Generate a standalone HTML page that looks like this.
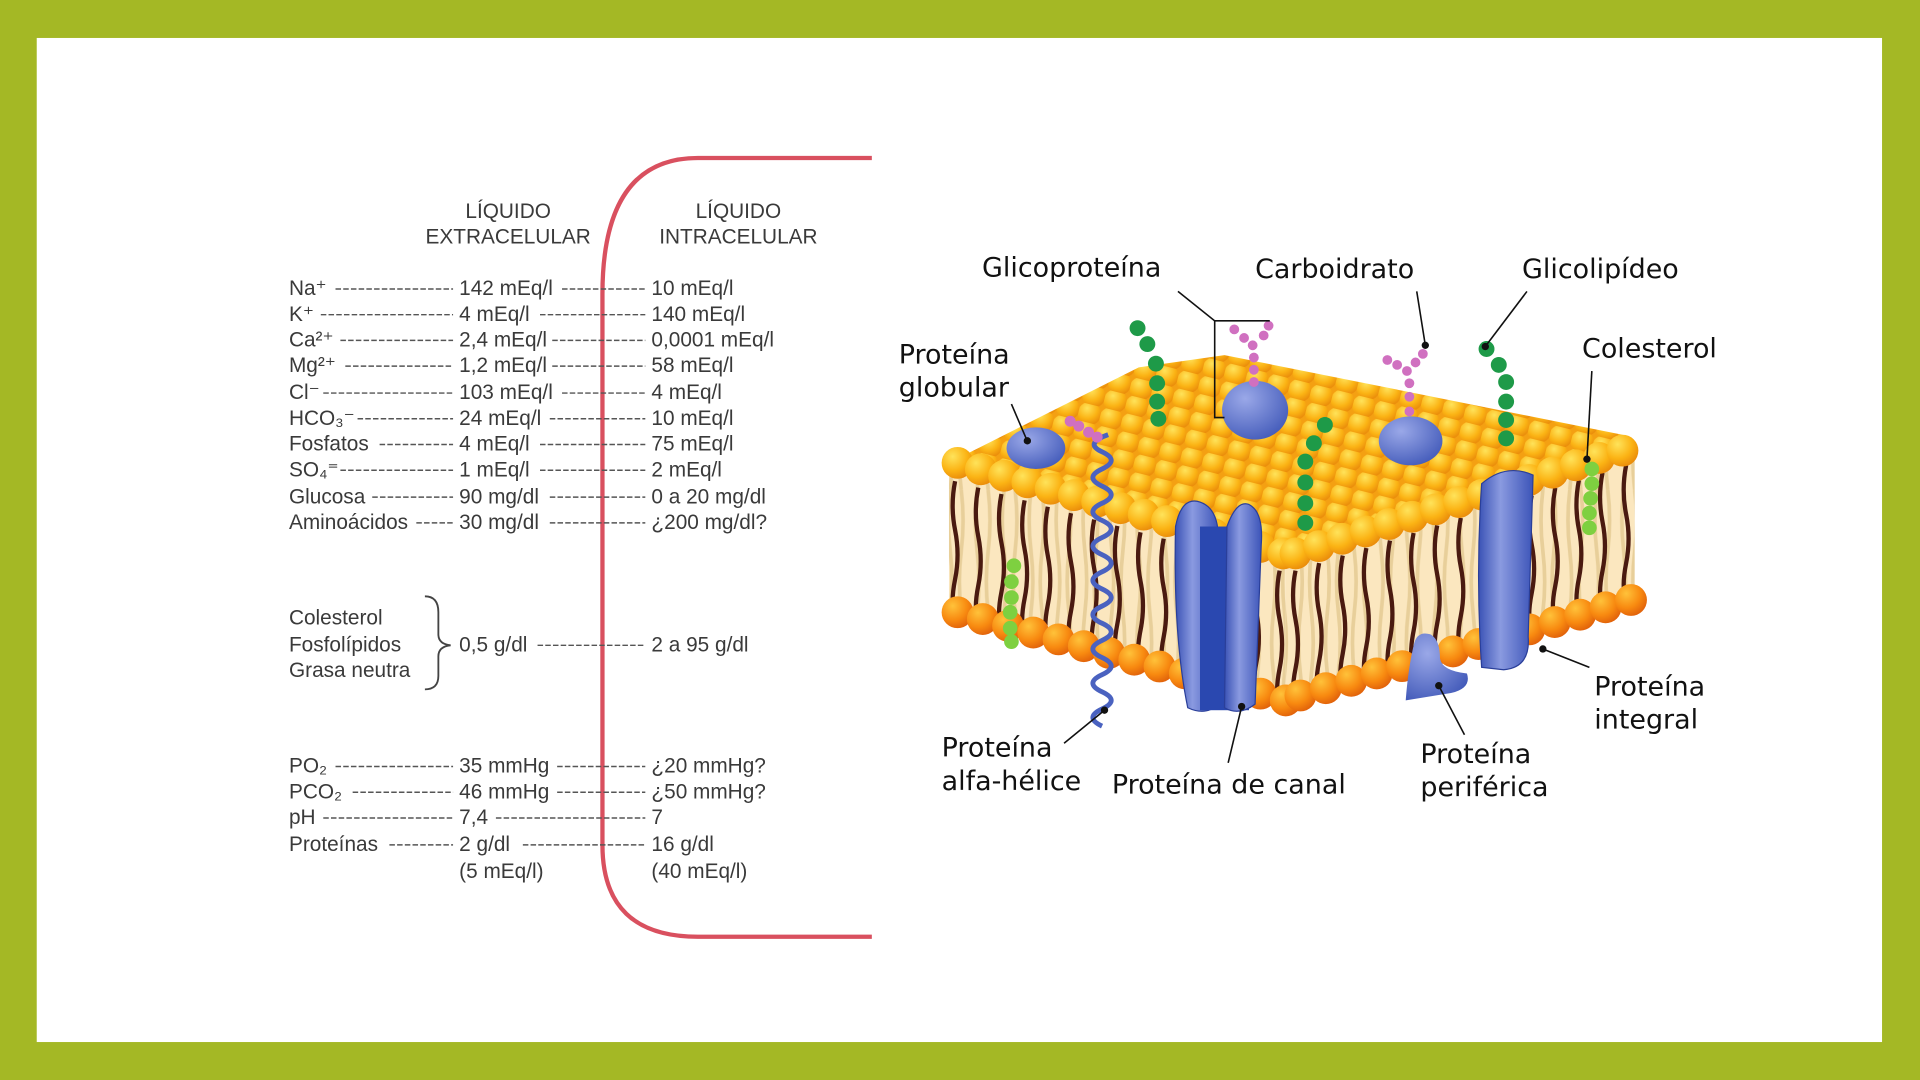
<!DOCTYPE html>
<html><head><meta charset="utf-8"><style>
html,body{margin:0;padding:0;background:#a4b825;}
svg{display:block}
.t{font-family:"Liberation Sans",sans-serif;font-size:17px;fill:#3a3a3a}
.l{font-family:"DejaVu Sans",sans-serif;font-size:22px;fill:#111}
</style></head><body>
<svg id="s" width="1920" height="1080" viewBox="0 0 1568 882" xmlns="http://www.w3.org/2000/svg">
<defs>
<radialGradient id="hy" cx="0.35" cy="0.3" r="0.75"><stop offset="0" stop-color="#ffe35a"/><stop offset="0.6" stop-color="#fbb314"/><stop offset="1" stop-color="#e98a0a"/></radialGradient>
<radialGradient id="ho" cx="0.35" cy="0.3" r="0.75"><stop offset="0" stop-color="#ffc23a"/><stop offset="0.6" stop-color="#f88a10"/><stop offset="1" stop-color="#e0600a"/></radialGradient>
<radialGradient id="bl" cx="0.35" cy="0.3" r="0.8"><stop offset="0" stop-color="#9aa8e8"/><stop offset="1" stop-color="#4058b8"/></radialGradient>
<linearGradient id="bv" x1="0" x2="1"><stop offset="0" stop-color="#3a52b5"/><stop offset="0.4" stop-color="#8a9ae0"/><stop offset="1" stop-color="#3c54b8"/></linearGradient>
<pattern id="heads" width="18" height="15" patternUnits="userSpaceOnUse" patternTransform="rotate(14)">
<rect width="18" height="15" fill="#f4a012"/>
<circle cx="9" cy="7.5" r="9.5" fill="url(#hy)"/></pattern>
<pattern id="tails" width="22" height="200" patternUnits="userSpaceOnUse">
<rect width="22" height="200" fill="#fbe7bf"/>
<path d="M6 0 q-3 25 0 50 t0 50 t0 50 t0 50" stroke="#e8cf9a" stroke-width="3" fill="none"/>
<path d="M15 0 q3 25 0 50 t0 50 t0 50 t0 50" stroke="#e8cf9a" stroke-width="3" fill="none"/>
</pattern>
</defs>
<rect x="30" y="31" width="1507" height="820" fill="#fff"/>

<path d="M712 129 H570 Q492 129 492 240 V690 Q492 765 570 765 H712" fill="none" stroke="#d9505f" stroke-width="3.5"/>

<g class="t">
<text x="415" y="178" text-anchor="middle">LÍQUIDO</text>
<text x="415" y="199" text-anchor="middle">EXTRACELULAR</text>
<text x="603" y="178" text-anchor="middle">LÍQUIDO</text>
<text x="603" y="199" text-anchor="middle">INTRACELULAR</text>
</g>
<g class="t" id="rows"></g>

<polygon points="775,380 1050,455 1050,570 775,500" fill="url(#tails)"/>
<polygon points="1050,455 1335,368 1335,490 1050,570" fill="url(#tails)"/>
<g id="tl"></g>
<g id="bot"></g>
<polygon points="775,378 930,300 1000,290 1325,355 1335,368 1050,455" fill="url(#heads)"/>
<g id="topedge"></g>

<ellipse cx="846" cy="366" rx="24" ry="17" fill="url(#bl)"/>
<ellipse cx="1025" cy="335" rx="27" ry="24" fill="url(#bl)"/>
<ellipse cx="1152" cy="360" rx="26" ry="20" fill="url(#bl)"/>
<path d="M960 430 Q965 405 980 410 Q995 415 995 440 L995 575 Q985 585 970 578 Q958 520 960 430Z" fill="url(#bv)" stroke="#2a3f9a"/>
<rect x="980" y="430" width="40" height="150" fill="#2a48b0"/>
<path d="M1002 430 Q1010 408 1020 412 Q1032 418 1030 445 L1025 575 Q1012 585 1000 578Z" fill="url(#bv)" stroke="#2a3f9a"/>
<path d="M1210 395 Q1230 378 1252 388 L1248 520 Q1250 545 1228 547 L1210 545 Q1205 470 1210 395Z" fill="url(#bv)" stroke="#2a3f9a"/>
<path d="M1155 525 Q1158 515 1168 518 Q1176 522 1176 538 Q1178 548 1198 550 Q1202 562 1185 566 L1148 572 Q1150 545 1155 525Z" fill="url(#bl)"/>
<path id="helix" d="" fill="none" stroke="#4a62c0" stroke-width="4"/>
<g id="chains"></g>

<g stroke="#111" stroke-width="1.3" fill="none">
<polyline points="962,238 992,262 1037,262"/><polyline points="992,262 992,341 1000,341"/>
<line x1="1157" y1="238" x2="1164" y2="282"/>
<line x1="1247" y1="238" x2="1213" y2="283"/>
<line x1="1300" y1="303" x2="1296" y2="375"/>
<line x1="826" y1="330" x2="838" y2="358"/>
<line x1="869" y1="607" x2="902" y2="580"/>
<line x1="1003" y1="623" x2="1014" y2="577"/>
<line x1="1196" y1="600" x2="1175" y2="560"/>
<line x1="1298" y1="545" x2="1260" y2="530"/>
</g>
<g fill="#111">
<circle cx="1164" cy="282" r="3"/><circle cx="1213" cy="283" r="3"/><circle cx="1296" cy="375" r="3"/>
<circle cx="839" cy="360" r="3"/><circle cx="902" cy="580" r="3"/><circle cx="1014" cy="577" r="3"/>
<circle cx="1175" cy="560" r="3"/><circle cx="1260" cy="530" r="3"/>
</g>
<g class="l">
<text x="802" y="226">Glicoproteína</text>
<text x="1025" y="227">Carboidrato</text>
<text x="1243" y="227">Glicolipídeo</text>
<text x="1292" y="292">Colesterol</text>
<text x="734" y="297">Proteína</text><text x="734" y="324">globular</text>
<text x="769" y="618">Proteína</text><text x="769" y="645">alfa-hélice</text>
<text x="908" y="648">Proteína de canal</text>
<text x="1160" y="623">Proteína</text><text x="1160" y="650">periférica</text>
<text x="1302" y="568">Proteína</text><text x="1302" y="595">integral</text>
</g>
</svg>
<script>
const NS="http://www.w3.org/2000/svg";
function el(p,t,a,txt){const e=document.createElementNS(NS,t);for(const k in a)e.setAttribute(k,a[k]);if(txt!=null)e.textContent=txt;document.getElementById(p).appendChild(e);return e;}
const rows=[["Na⁺","142 mEq/l","10 mEq/l",241],["K⁺","4 mEq/l","140 mEq/l",262],["Ca²⁺","2,4 mEq/l","0,0001 mEq/l",283],["Mg²⁺","1,2 mEq/l","58 mEq/l",304],["Cl⁻","103 mEq/l","4 mEq/l",326],["HCO₃⁻","24 mEq/l","10 mEq/l",347],["Fosfatos","4 mEq/l","75 mEq/l",368],["SO₄⁼","1 mEq/l","2 mEq/l",389],["Glucosa","90 mg/dl","0 a 20 mg/dl",411],["Aminoácidos","30 mg/dl","¿200 mg/dl?",432],
["Fosfolípidos","0,5 g/dl","2 a 95 g/dl",532],["PO₂","35 mmHg","¿20 mmHg?",631],["PCO₂","46 mmHg","¿50 mmHg?",652],["pH","7,4","7",673],["Proteínas","2 g/dl","16 g/dl",695]];
const lw={"Na⁺":34,"K⁺":22,"Ca²⁺":38,"Mg²⁺":42,"Cl⁻":24,"HCO₃⁻":52,"Fosfatos":70,"SO₄⁼":38,"Glucosa":64,"Aminoácidos":100,"Fosfolípidos":0,"PO₂":34,"PCO₂":48,"pH":24,"Proteínas":78};
const v1w={"142 mEq/l":80,"4 mEq/l":62,"2,4 mEq/l":72,"1,2 mEq/l":72,"103 mEq/l":80,"24 mEq/l":70,"1 mEq/l":62,"90 mg/dl":70,"30 mg/dl":70,"0,5 g/dl":60,"35 mmHg":76,"46 mmHg":76,"7,4":26,"2 g/dl":48};
rows.forEach(r=>{const y=r[3];el("rows","text",{x:236,y:y},r[0]);
 if(r[0]!=="Fosfolípidos"){el("rows","line",{x1:236+lw[r[0]]+4,y1:y-5,x2:370,y2:y-5,stroke:"#555","stroke-width":1.2,"stroke-dasharray":"4.5 1.8"});}
 el("rows","text",{x:375,y:y},r[1]);
 el("rows","line",{x1:375+v1w[r[1]]+4,y1:y-5,x2:527,y2:y-5,stroke:"#555","stroke-width":1.2,"stroke-dasharray":"4.5 1.8"});
 el("rows","text",{x:532,y:y},r[2]);});
el("rows","text",{x:236,y:510},"Colesterol");el("rows","text",{x:236,y:553},"Grasa neutra");
el("rows","text",{x:375,y:717},"(5 mEq/l)");el("rows","text",{x:532,y:717},"(40 mEq/l)");
el("rows","path",{d:"M347 487 Q358 487 358 500 V518 Q358 526 368 527 Q358 528 358 536 V552 Q358 563 347 563",fill:"none",stroke:"#444","stroke-width":1.5});
function edge(x1,y1,x2,y2,n,f){for(let i=0;i<=n;i++){const t=i/n;f(x1+(x2-x1)*t,y1+(y2-y1)*t,i);}}
edge(780,385,1045,458,14,(x,y)=>{el("tl","path",{d:`M${x} ${y+8} q-4 20 0 40 t0 40 t0 30`,stroke:"#4a1a10","stroke-width":3.5,fill:"none"});});
edge(1058,458,1328,372,14,(x,y)=>{el("tl","path",{d:`M${x} ${y+8} q-4 20 0 40 t0 40 t0 30`,stroke:"#4a1a10","stroke-width":3.5,fill:"none"});});
edge(782,500,1050,572,13,(x,y)=>el("bot","circle",{cx:x,cy:y,r:13,fill:"url(#ho)"}));
edge(1062,568,1332,490,13,(x,y)=>el("bot","circle",{cx:x,cy:y,r:13,fill:"url(#ho)"}));
edge(782,378,1048,452,14,(x,y)=>el("topedge","circle",{cx:x,cy:y,r:13,fill:"url(#hy)"}));
edge(1058,452,1325,368,14,(x,y)=>el("topedge","circle",{cx:x,cy:y,r:13,fill:"url(#hy)"}));
let d="M905 355";for(let y=355;y<580;y+=14){d+=` Q${(y/14|0)%2?885:915} ${y+7} 900 ${y+14}`;}
document.getElementById("helix").setAttribute("d",d);
function chain(pts,c,r){pts.forEach(p=>el("chains","circle",{cx:p[0],cy:p[1],r:r,fill:c}));}
chain([[929,268],[937,281],[944,297],[945,313],[945,328],[946,342]],"#1e9a48",6.5);
chain([[1082,347],[1073,362],[1066,377],[1066,394],[1066,411],[1066,427]],"#1e9a48",6.5);
chain([[1214,285],[1224,298],[1230,312],[1230,328],[1230,343],[1230,358]],"#1e9a48",6.5);
chain([[1300,383],[1300,395],[1299,407],[1298,419],[1298,431]],"#7ed040",6);
chain([[828,462],[826,475],[826,488],[825,500],[825,513],[826,524]],"#7ed040",6);
chain([[1008,269],[1016,276],[1023,282],[1032,274],[1036,266],[1024,292],[1024,302],[1024,312]],"#d070c0",4);
chain([[1133,294],[1141,298],[1149,303],[1156,296],[1162,289],[1151,313],[1151,324],[1151,336]],"#d070c0",4);
chain([[874,344],[881,348],[889,353],[896,357]],"#d070c0",4.5);
</script>
</body></html>
